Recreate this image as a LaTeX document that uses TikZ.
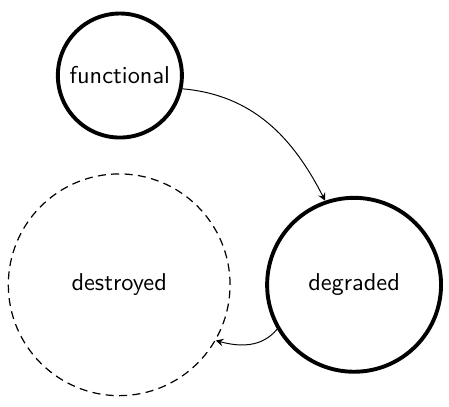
\documentclass[tikz,border=0pt]{standalone}
\usepackage{tikz}
\usetikzlibrary{calc}
\tikzset{>=stealth}

\begin{document}
\begin{tikzpicture}[font=\sffamily,
    state/.style={circle,draw,ultra thick,inner sep=0pt},
    gone/.style={circle,draw,line width=0.5pt,dash pattern=on 3.3pt off 2.2pt,inner sep=0pt}]
    \useasboundingbox (0,0) rectangle (6.48,5.86);
      \node[state,minimum size=1.79cm] (functional) at (1.73,4.77) {functional};
      \node[state,minimum size=2.51cm] (degraded) at (5.11,1.75) {degraded};
      \node[gone,minimum size=3.2cm] (destroyed) at (1.72,1.75) {destroyed};
      \draw[thin,->] (functional.-12) to[out=-5,in=117] (degraded.109);
      \draw[thin,->] (degraded.210) to[out=230,in=-15] (destroyed.-30);
     \end{tikzpicture}
\end{document}
